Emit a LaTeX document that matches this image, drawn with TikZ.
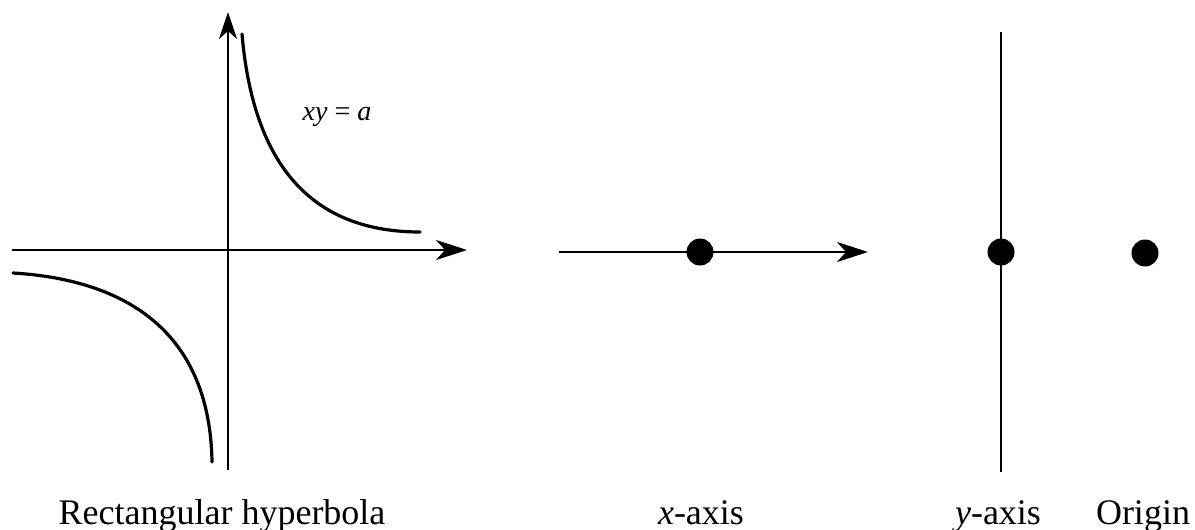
\documentclass[tikz,border=0pt]{standalone}
\usepackage{fontspec}
\setmainfont{Liberation Serif}
\usetikzlibrary{arrows.meta}
\begin{document}
\begin{tikzpicture}[x=1pt,y=-1pt,
  axis/.style={line width=2.7pt,-{Stealth[length=31pt,width=20pt,inset=9pt]}},
  plainaxis/.style={line width=2.7pt},
  curve/.style={line width=3.2pt,line cap=round},
  dot/.style={circle,fill=black,inner sep=0pt,minimum size=27pt},
  lab/.style={font=\fontsize{36}{40}\selectfont,anchor=base,inner sep=0pt}]
\useasboundingbox (0,0) rectangle (1195,530);
% left figure
\coordinate (xl) at (12,250);
\coordinate (xr) at (467,250);
\coordinate (yb) at (228,470);
\coordinate (yt) at (228,12);
\draw[axis] (xl) -- (xr);
\draw[line width=2.7pt,-{Stealth[length=27pt,width=18pt,inset=8pt]}] (yb) -- (yt);
\coordinate (u1) at (242,34);
\coordinate (u2) at (420,232);
\coordinate (w1) at (13,273);
\coordinate (w2) at (212,462);
\draw[curve] (u1) .. controls (252,150) and (300,232) .. (u2);
\draw[curve] (w1) .. controls (130,280) and (210,335) .. (w2);
\node[anchor=base,inner sep=0pt,font=\fontsize{28}{32}\selectfont] (eq) at (337,120) {\textit{xy} = \textit{a}};
\node[lab] (l1) at (222,524) {Rectangular hyperbola};
% x-axis
\coordinate (ma) at (559,252);
\coordinate (mb) at (868,252);
\draw[axis] (ma) -- (mb);
\node[dot] (d1) at (700,252) {};
\node[lab] (l2) at (701,524) {\textit{x}-axis};
% y-axis
\coordinate (ya) at (1001,32);
\coordinate (yc) at (1001,472);
\draw[plainaxis] (ya) -- (yc);
\node[dot] (d2) at (1001,252) {};
\node[lab] (l3) at (998,524) {\textit{y}-axis};
% origin
\node[dot] (d3) at (1145,253) {};
\node[lab] (l4) at (1143,524) {Origin};
\end{tikzpicture}
\end{document}
